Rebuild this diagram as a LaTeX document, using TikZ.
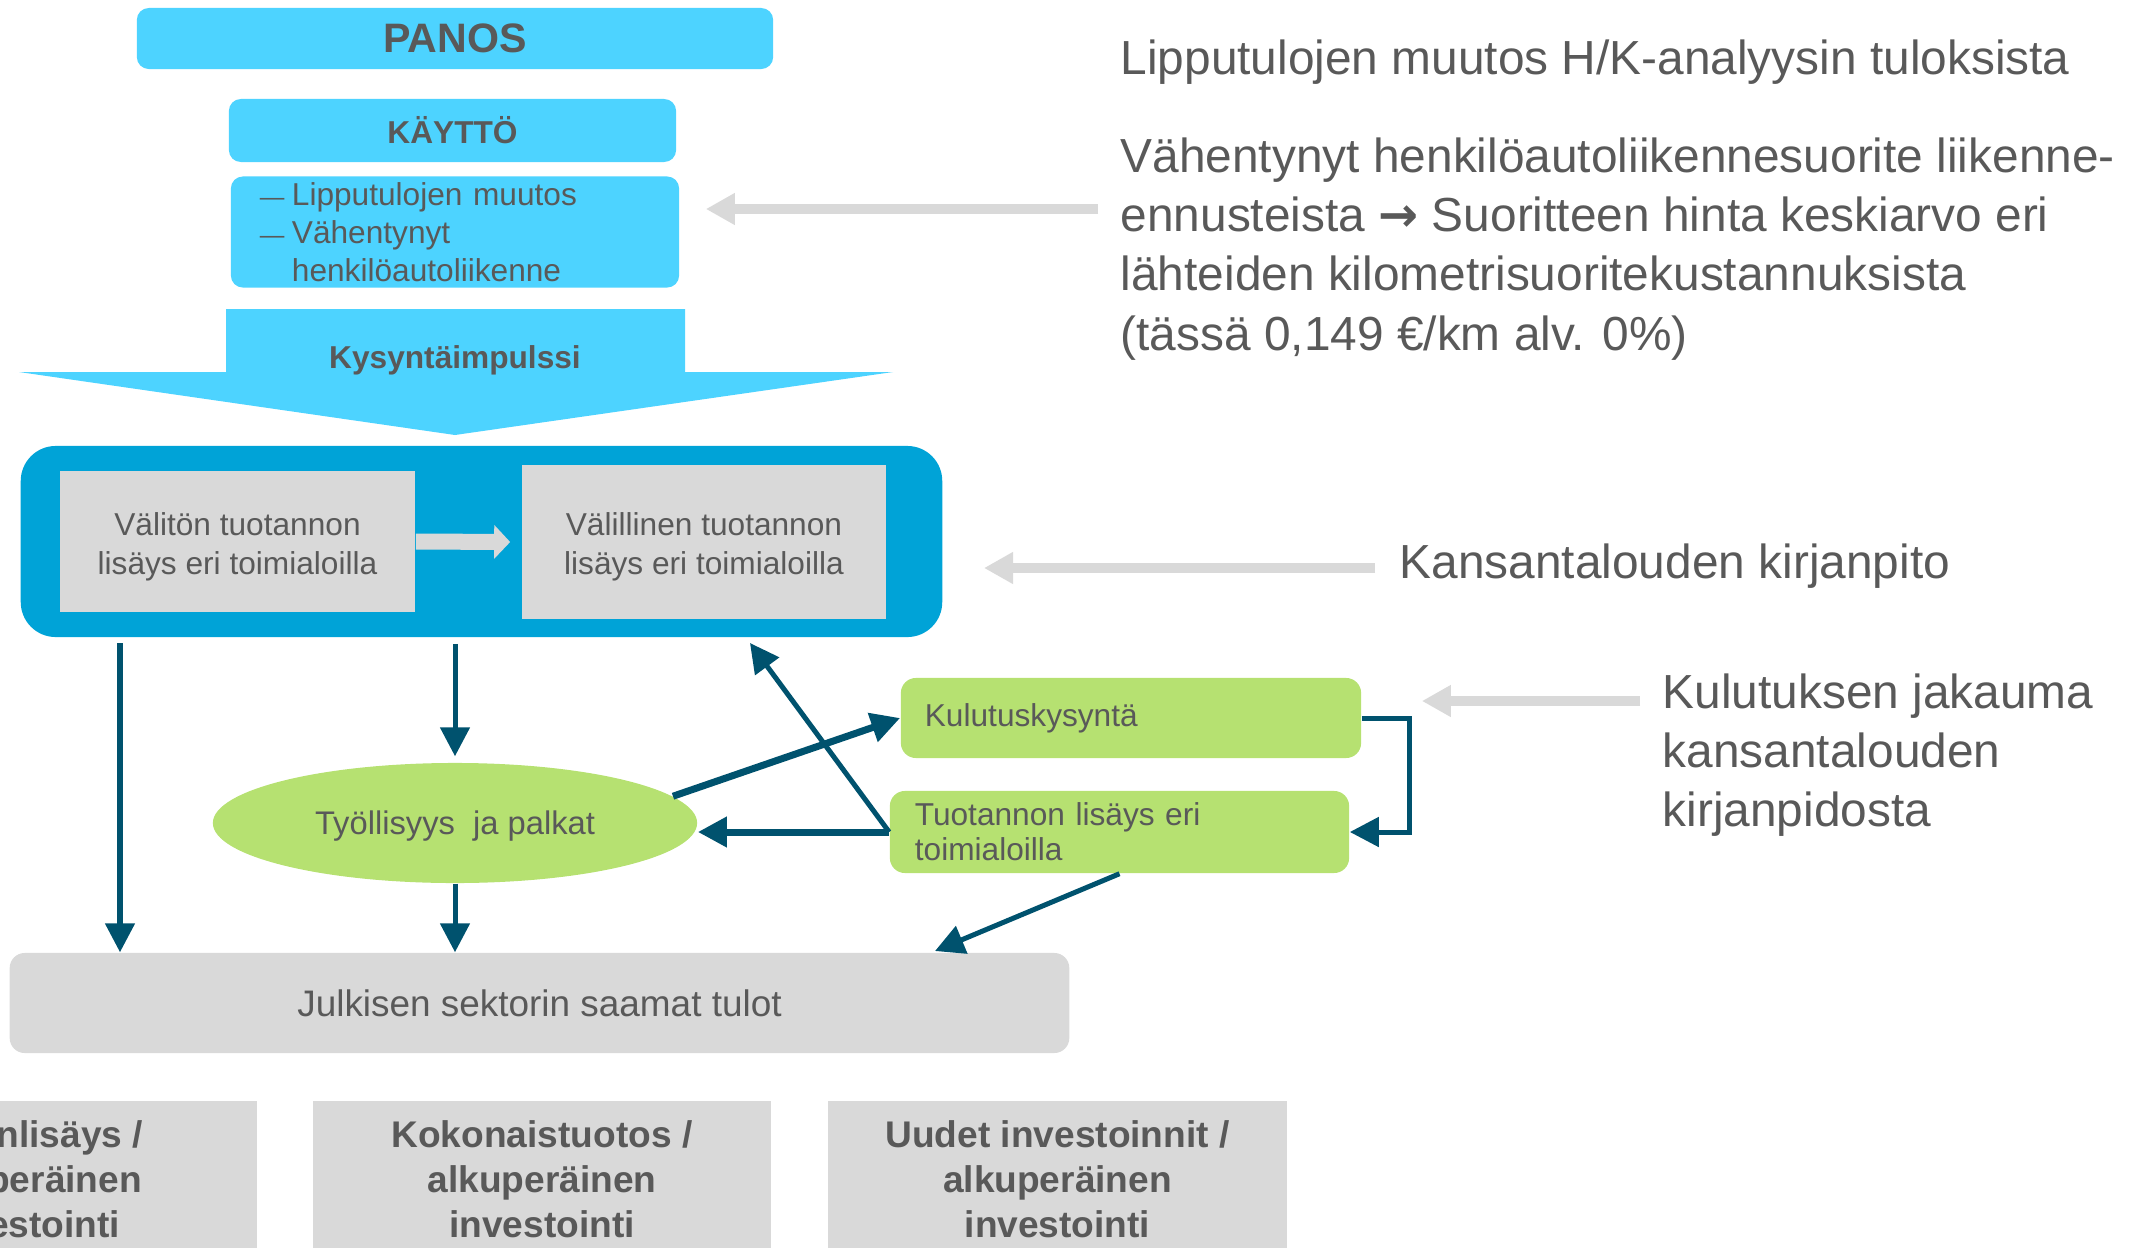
\documentclass[tikz,border=0pt]{standalone}
\usepackage{fontspec}
\setmainfont{Liberation Sans}
\newfontfamily\arrowfont{DejaVu Sans}
\usetikzlibrary{arrows.meta,shapes.geometric,positioning}
\definecolor{cyanbox}{HTML}{4DD3FF}
\definecolor{bluebox}{HTML}{00A3D7}
\definecolor{graybox}{HTML}{D9D9D9}
\definecolor{greenbox}{HTML}{B6E171}
\definecolor{darkline}{HTML}{00526E}
\definecolor{txt}{HTML}{595959}
\tikzset{
  cbox/.style={fill=cyanbox,rounded corners=0.12cm,inner sep=0pt},
  gbox/.style={fill=graybox,inner sep=0pt,align=center,font=\fontsize{9}{11.1}\selectfont},
  lbox/.style={fill=greenbox,rounded corners=0.15cm,inner ysep=0pt,align=left},
  kbox/.style={fill=graybox,inner sep=0pt,align=center,minimum width=4.58cm,minimum height=1.56cm,font=\bfseries\fontsize{10.55}{12.8}\selectfont},
  sidetxt/.style={anchor=west,inner sep=0pt,align=left,font=\fontsize{13.6}{16.8}\selectfont},
  darr/.style={draw=darkline,line width=0.05cm,-{Triangle[width=0.29cm,length=0.29cm]}},
  thickarr/.style={darr,line width=0.07cm},
  garr/.style={draw=graybox,line width=0.1cm,-{Triangle[width=0.3cm,length=0.29cm]}},
  fatarr/.style={draw=graybox,line width=0.16cm,-{Triangle[width=0.33cm,length=0.16cm]}}
}
\newcommand{\listdash}{\makebox[0.32cm][l]{\fontsize{7}{7}\selectfont —}}
\begin{document}
\begin{tikzpicture}[x=0.01cm,y=-0.01cm,font=\fontsize{9}{10.8}\selectfont,text=txt]
\useasboundingbox (0,0) rectangle (2147,1248);
\clip (0,0) rectangle (2147,1248);
%input
\node[cbox,minimum width=6.36cm,minimum height=0.61cm,font=\bfseries\fontsize{11.7}{14}\selectfont] (panos) at (455,38.5) {PANOS};
\node[cbox,minimum width=4.47cm,minimum height=0.63cm,font=\bfseries\fontsize{9}{10.8}\selectfont] (kaytto) at (452.5,130.5) {KÄYTTÖ};
\node[cbox,minimum width=4.48cm,minimum height=1.11cm,text width=3.9cm,inner xsep=0.29cm,align=left] (liste) at (455,232) {\listdash Lipputulojen muutos\\\listdash Vähentynyt\\\hspace*{0.32cm}henkilöautoliikenne};
%impulse
\fill[cyanbox] (226,309) -- (685,309) -- (685,372) -- (893,372) -- (455,435) -- (19,372) -- (226,372) -- cycle;
\node[font=\bfseries\fontsize{9}{10.8}\selectfont] (impulssi) at (455,360) {Kysyntäimpulssi};
%national accounts
\node[fill=bluebox,rounded corners=0.35cm,minimum width=9.21cm,minimum height=1.91cm] (kirjanpito) at (481.5,541.5) {};
\node[gbox,minimum width=3.55cm,minimum height=1.41cm] (valiton) at (237.5,541.5) {};
\node[gbox,minimum width=3.64cm,minimum height=1.54cm] (valillinen) at (704,542) {};
\node[gbox,fill=none] (valitonteksti) at (237.5,547) {Välitön tuotannon\\lisäys eri toimialoilla};
\node[gbox,fill=none] (valillinenteksti) at (704,547) {Välillinen tuotannon\\lisäys eri toimialoilla};
\draw[fatarr] (valiton.east) -- ([xshift=-0.11cm]valillinen.west);
%effects
\node[ellipse,fill=greenbox,minimum width=4.84cm,minimum height=1.2cm,inner sep=0pt] (tyo) at (455,823) {};
\node[font=\fontsize{9.3}{11}\selectfont] (tyoteksti) at (455,826) {Työllisyys\ \ ja palkat};
\node[lbox,minimum width=4.6cm,minimum height=0.8cm,text width=4.12cm,inner xsep=0.24cm] (kulutus) at (1131,718) {\raisebox{-0.05cm}{Kulutuskysyntä}};
\node[lbox,minimum width=4.59cm,minimum height=0.82cm,text width=4.09cm,inner xsep=0.25cm] (tuotanto) at (1119.5,832) {\raisebox{-0.03cm}{Tuotannon lisäys eri}\\toimialoilla};
\node[fill=graybox,rounded corners=0.15cm,minimum width=10.59cm,minimum height=1cm,font=\fontsize{10.5}{12.6}\selectfont] (julkinen) at (539.5,1003) {Julkisen sektorin saamat tulot};
%multipliers
\node[kbox] (arvo) at (27.5,1179) {Arvonlisäys /\\alkuperäinen\\investointi};
\node[kbox] (koko) at (542,1179) {Kokonaistuotos /\\alkuperäinen\\investointi};
\node[kbox] (uudet) at (1057.5,1179) {Uudet investoinnit /\\alkuperäinen\\investointi};
%sources
\node[sidetxt] (lahde1) at (1120,62) {Lipputulojen muutos H/K-analyysin tuloksista};
\node[sidetxt] (lahde2) at (1120,249) {Vähentynyt henkilöautoliikennesuorite liikenne-\\ennusteista {\arrowfont\bfseries →} Suoritteen hinta keskiarvo eri\\lähteiden kilometrisuoritekustannuksista\\(tässä 0,149 €/km alv. 0\%)};
\node[sidetxt] (lahde3) at (1399,566) {Kansantalouden kirjanpito};
\node[sidetxt] (lahde4) at (1662,755) {Kulutuksen jakauma\\kansantalouden\\kirjanpidosta};
\coordinate (g1) at (1098,209);
\coordinate (g2) at (1375,568);
\coordinate (g3) at (1640,701);
\draw[garr,shorten >=0.26cm] (g1) -- (g1 -| liste.east);
\draw[garr,shorten >=0.41cm] (g2) -- (g2 -| kirjanpito.east);
\draw[garr,shorten >=0.60cm] (g3) -- (g3 -| kulutus.east);
%flows
\coordinate (a1) at (120,643);
\coordinate (a6) at (750,643);
\coordinate (a8) at (935,951);
\draw[darr] (a1) -- (a1 |- julkinen.north);
\draw[darr,shorten <=0.06cm,shorten >=0.06cm] (tyo.north |- kirjanpito.south) -- (tyo.north);
\draw[darr] (tyo.south) -- (tyo.south |- julkinen.north);
\draw[thickarr] (tyo.7) -- (kulutus.west);
\draw[thickarr] (tuotanto.west) -- (tuotanto.west -| tyo.east);
\draw[darr] (tuotanto.west) -- (a6);
\draw[darr] (kulutus.east) -- ++(48,0) |- (tuotanto.east);
\draw[darr] (tuotanto.south) -- (a8);
\end{tikzpicture}
\end{document}
